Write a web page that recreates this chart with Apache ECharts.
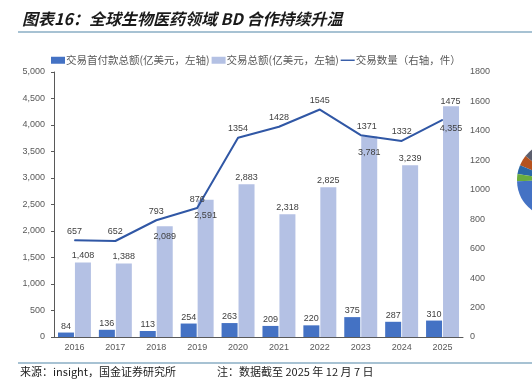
<!DOCTYPE html>
<html><head><meta charset="utf-8">
<script src="https://cdn.jsdelivr.net/npm/echarts@6/dist/echarts.min.js"></script>
<style>html,body{margin:0;padding:0;background:#fff}#c{width:532px;height:385px}</style>
</head><body><div id="c"></div>
<script>
const categories = ['2016','2017','2018','2019','2020','2021','2022','2023','2024','2025'];
const upfront = [84,136,113,254,263,209,220,375,287,310];
const totalValue = [1408,1388,2089,2591,2883,2318,2825,3781,3239,4355];
const dealCount = [657,652,793,876,1354,1428,1545,1371,1332,1475];
const leftTicks = [0,5000,500];
const rightTicks = [0,1800,200];
const pieDecor = [51,16,14,11,53,215];
const pieColors = ['#5d5f6e','#b5521f','#2b67a6','#6aac3e','#4472c4','#a3a3a3'];
const names = ['交易首付款总额(亿美元，左轴)','交易总额(亿美元，左轴)','交易数量（右轴，件）'];

const fmt = v => Number(v).toLocaleString('en-US');
const insideDist = {2:6, 3:11, 7:11, 9:18};
const lineOffsets = {7:[6,0], 9:[8,-9]};
const lblFont = {fontFamily:'Liberation Sans, Arial, sans-serif', fontSize:9, color:'#404040'};

const chart = echarts.init(document.getElementById('c'), null, {renderer:'canvas'});
chart.setOption({
  animation:false,
  backgroundColor:'#fff',
  grid:{left:54, right:69, top:72, bottom:48},
  legend:{
    top:50, left:46, itemGap:2, itemWidth:14, itemHeight:7,
    textStyle:{fontFamily:'Noto Sans CJK SC', fontSize:10.5, color:'#595959', padding:[0,0,0,-4]},
    data:[{name:names[0], icon:'rect'},{name:names[1], icon:'rect'},{name:names[2], icon:'path://M0 0H30V3H0Z'}]
  },
  xAxis:{
    type:'category', data:categories,
    axisLine:{lineStyle:{color:'#595959', width:1}},
    axisTick:{inside:true, length:3, lineStyle:{color:'#595959'}},
    axisLabel:{fontFamily:'Liberation Sans, Arial, sans-serif', fontSize:9, color:'#595959', margin:6}
  },
  yAxis:[{
    type:'value', min:leftTicks[0], max:leftTicks[1], interval:leftTicks[2],
    axisLine:{show:true, lineStyle:{color:'#595959'}},
    axisTick:{show:true, length:3, lineStyle:{color:'#595959'}},
    splitLine:{show:false},
    axisLabel:{formatter:v=>fmt(v), fontFamily:'Liberation Sans, Arial, sans-serif', fontSize:9, color:'#595959', margin:9}
  },{
    type:'value', min:rightTicks[0], max:rightTicks[1], interval:rightTicks[2],
    axisLine:{show:false}, axisTick:{show:false}, splitLine:{show:false},
    axisLabel:{formatter:v=>String(v), fontFamily:'Liberation Sans, Arial, sans-serif', fontSize:9, color:'#595959', margin:7}
  }],
  series:[{
    name:names[0], type:'bar', barWidth:16, barGap:'6%',
    itemStyle:{color:'#4472c4'},
    label:Object.assign({show:true, position:'top', distance:2, formatter:p=>fmt(p.value)}, lblFont),
    data:upfront
  },{
    name:names[1], type:'bar', barWidth:16,
    itemStyle:{color:'#b4c1e4'},
    label:Object.assign({show:true, position:'top', distance:2, formatter:p=>fmt(p.value)}, lblFont),
    data:totalValue.map((v,i)=> insideDist[i]!==undefined ? {value:v, label:{position:'insideTop', distance:insideDist[i]}} : v)
  },{
    name:names[2], type:'line', yAxisIndex:1,
    symbol:'circle', symbolSize:1, showSymbol:true,
    lineStyle:{color:'#3057a5', width:2}, itemStyle:{color:'#3057a5'},
    label:Object.assign({show:true, position:'top', distance:4}, lblFont),
    data:dealCount.map((v,i)=> lineOffsets[i] ? {value:v, label:{offset:lineOffsets[i]}} : v)
  },{
    type:'pie', center:[555,180], radius:38, startAngle:90, clockwise:false,
    silent:true, label:{show:false}, labelLine:{show:false},
    data:pieDecor.map((v,i)=>({value:v, name:'d'+i, itemStyle:{color:pieColors[i]}}))
  }],
  graphic:[
    {type:'text', left:22, top:11, style:{text:'图表16：全球生物医药领域 BD 合作持续升温', font:'italic bold 16px "Noto Sans CJK SC"', fill:'#1a1a1a'}},
    {type:'line', shape:{x1:18,y1:32,x2:532,y2:32}, style:{stroke:'#8aaec4', lineWidth:1.5}},
    {type:'line', shape:{x1:18,y1:363,x2:532,y2:363}, style:{stroke:'#8aaec4', lineWidth:1.5}},
    {type:'text', left:20, top:366, style:{text:'来源：insight，国金证券研究所', font:'11px "Noto Sans CJK SC"', fill:'#222'}},
    {type:'text', left:217, top:366, style:{text:'注：数据截至 2025 年 12 月 7 日', font:'11px "Noto Sans CJK SC"', fill:'#222'}}
  ]
});
</script></body></html>
